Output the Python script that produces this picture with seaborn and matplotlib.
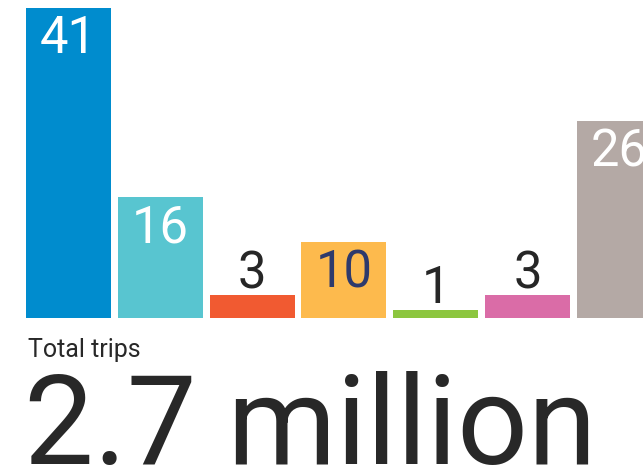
import matplotlib
matplotlib.use("Agg")
import matplotlib.pyplot as plt
import seaborn as sns
import pandas as pd

# Share of trips by category (percent)
categories = ["c1", "c2", "c3", "c4", "c5", "c6", "c7"]
shares = [41, 16, 3, 10, 1, 3, 26]
bar_colors = ["#008CCE", "#58C5D0", "#F15A31", "#FDBA4D", "#8CC63F", "#DA6CA7", "#B4A9A5"]
label_colors = ["#FFFFFF", "#FFFFFF", "#262626", "#2E3A6C", "#262626", "#262626", "#FFFFFF"]

total_caption = "Total trips"
total_value = "2.7 million"

FONT = ["Roboto", "DejaVu Sans"]

sns.set_theme(style="white")
plt.rcParams["font.family"] = FONT

W, H = 643, 473
fig = plt.figure(figsize=(W / 100, H / 100), dpi=100)

base_px = 318          # baseline of bars, pixels from top
px_per_unit = 310 / 41
pitch = 91.8           # pixels between bar centres
first_center = 68.5

ax = fig.add_axes([0, (H - base_px) / H, 1, base_px / H])

df = pd.DataFrame({"category": categories, "share": shares})
sns.barplot(data=df, x="category", y="share", hue="category",
            palette=bar_colors, saturation=1, width=85 / pitch,
            legend=False, linewidth=0, ax=ax)

xmin = -first_center / pitch
ax.set_xlim(xmin, xmin + W / pitch)
ax.set_ylim(0, base_px / px_per_unit)
ax.axis("off")

# value labels: inside the bar when tall enough, above it otherwise
for i, (v, c) in enumerate(zip(shares, label_colors)):
    if v >= 10:
        off = -45 * 0.72
    else:
        off = 7 * 0.72
    ax.annotate(str(v), xy=(i, v), xytext=(0, off), textcoords="offset points",
                ha="center", va="baseline", fontsize=36.5, color=c,
                annotation_clip=False)

fig.text(28 / W, (H - 357) / H, total_caption, fontsize=18, color="#282828",
         ha="left", va="baseline")
fig.text(24 / W, (H - 464) / H, total_value, fontsize=89.5, color="#282828",
         ha="left", va="baseline")

fig.savefig("out.png", dpi=100)
